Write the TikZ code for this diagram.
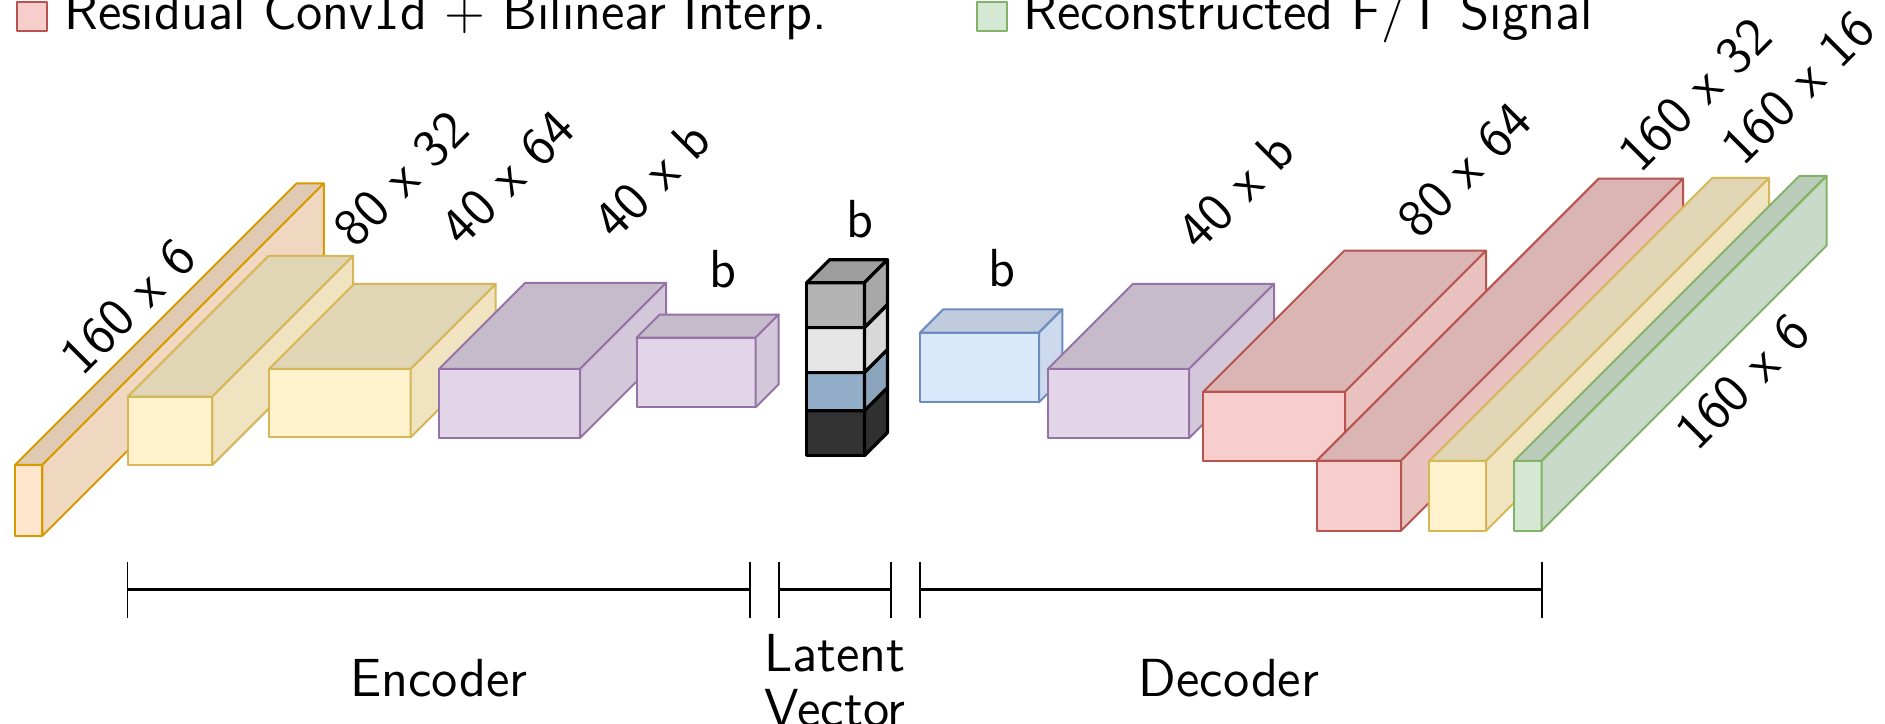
\documentclass[tikz,border=0pt]{standalone}
\usepackage{tikz}
\usepackage{xcolor}
\usetikzlibrary{positioning}
\definecolor{OrangeFill}{HTML}{FFE6CC}
\definecolor{OrangeLine}{HTML}{D79B00}
\definecolor{YellowFill}{HTML}{FFF2CC}
\definecolor{YellowLine}{HTML}{D6B656}
\definecolor{PurpleFill}{HTML}{E1D5E7}
\definecolor{PurpleLine}{HTML}{9673A6}
\definecolor{BlueFill}{HTML}{DAE8FC}
\definecolor{BlueLine}{HTML}{6C8EBF}
\definecolor{RedFill}{HTML}{F8CECC}
\definecolor{RedLine}{HTML}{B85450}
\definecolor{GreenFill}{HTML}{D5E8D4}
\definecolor{GreenLine}{HTML}{82B366}
\definecolor{GreyFill}{HTML}{B3B3B3}
\definecolor{LightFill}{HTML}{E6E6E6}
\definecolor{SteelFill}{HTML}{93AEC8}
\definecolor{DarkFill}{HTML}{333333}

% cuboid: [style]{x}{y}{width}{height}{depth}{fill}, depth drawn at 45 degrees
\newcommand{\cuboid}[7][]{%
  \filldraw[box,#1,fill=#7] (#2,#3) rectangle ++(#4,#5);
  \filldraw[box,#1,fill=#7!88!black] (#2,#3+#5) -- ++(#6,#6) -- ++(#4,0) -- ++(-#6,-#6) -- cycle;
  \filldraw[box,#1,fill=#7!94!black] (#2+#4,#3) -- ++(#6,#6) -- ++(0,#5) -- ++(-#6,-#6) -- cycle;
}

\begin{document}
\begin{tikzpicture}[
  x=0.25pt, y=0.25pt,
  font=\sffamily\fontsize{13.4}{13.75}\selectfont,
  box/.style={line width=0.5pt,line join=round},
  latent/.style={draw=black,line width=0.8pt},
  dim/.style={rotate=45,inner sep=0pt},
  span/.style={line width=0.75pt},
  tick/.style={line width=0.4pt}
]
\fill[white] (0,0) rectangle (1885,724);
\useasboundingbox (0,0) rectangle (1885,724);

% legend
\draw[box,draw=RedLine,fill=RedFill] (16.7,693.3) rectangle (46.7,722.3);
\node[anchor=base west,inner sep=0pt] (lgconv) at (64,694) {Residual Conv1d + Bilinear Interp.};
\draw[box,draw=GreenLine,fill=GreenFill] (977,693.3) rectangle (1007,722.3);
\node[anchor=base west,inner sep=0pt] (lgsig) at (1023,694) {Reconstructed F/T Signal};

% encoder
\cuboid[draw=OrangeLine]{15}{188}{27.3}{71}{281.5}{OrangeFill}
\cuboid[draw=YellowLine]{127.7}{259}{84.7}{68.3}{140.7}{YellowFill}
\cuboid[draw=YellowLine]{269}{286.7}{141.7}{68.3}{85}{YellowFill}
\cuboid[draw=PurpleLine]{439}{286}{141}{69}{86}{PurpleFill}
\cuboid[draw=PurpleLine]{636.7}{316.7}{119}{69.7}{23}{PurpleFill}

% latent vector
\foreach \y/\h/\c in {268.3/44.9/DarkFill, 313.2/38.3/SteelFill, 351.5/44.9/LightFill, 396.4/44.9/GreyFill}
  {\cuboid[latent]{806.7}{\y}{57.7}{\h}{23}{\c}}

% decoder
\cuboid[draw=BlueLine]{920}{321.7}{119}{69.7}{23.3}{BlueFill}
\cuboid[draw=PurpleLine]{1047.7}{285.7}{141.3}{69.3}{85}{PurpleFill}
\cuboid[draw=RedLine]{1203.3}{263.3}{141.7}{69}{141}{RedFill}
\cuboid[draw=RedLine]{1316.7}{193.3}{84.3}{70}{282}{RedFill}
\cuboid[draw=YellowLine]{1429.3}{193.3}{56.7}{69.7}{283}{YellowFill}
\cuboid[draw=GreenLine]{1514.3}{193.3}{27.3}{69.7}{285}{GreenFill}

% sizes
\node[dim] (din) at (128.3,417.3) {160 x 6};
\node[dim] (de1) at (401.5,545) {80 x 32};
\node[dim] (de2) at (508,546) {40 x 64};
\node[dim] (de3) at (652,544) {40 x b};
\node (de4) at (723.3,454.5) {b};
\node (dz) at (859.5,504.5) {b};
\node (dd1) at (1002.3,455.7) {b};
\node[dim] (dd2) at (1236,533) {40 x b};
\node[dim] (dd3) at (1465,554) {80 x 64};
\node[dim] (dd4) at (1695,629) {160 x 32};
\node[dim] (dd5) at (1798,636) {160 x 16};
\node[dim] (dout) at (1743,342) {160 x 6};

% stage brackets
\foreach \a/\b in {127.4/750, 779/891, 920/1542} {
  \draw[span] (\a,134) -- (\b,134);
  \draw[tick] (\a,106.3) -- ++(0,56);
  \draw[tick] (\b,106.3) -- ++(0,56);
}
\node[anchor=base] (enc) at (438.8,27.3) {Encoder};
\node[anchor=north,align=center,inner sep=0pt] (lat) at (835,90.7) {Latent\\Vector};
\node[anchor=base] (dec) at (1229,27.3) {Decoder};
\end{tikzpicture}
\end{document}
